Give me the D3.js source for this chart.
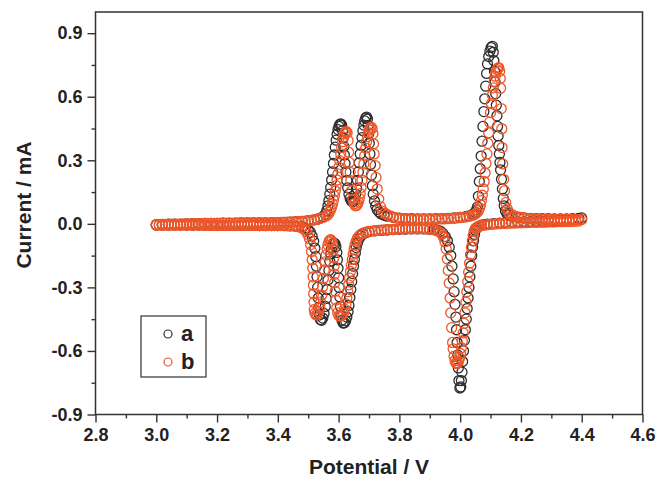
<!DOCTYPE html>
<html><head><meta charset="utf-8">
<script src="https://cdn.jsdelivr.net/npm/d3@7"></script>
<style>body{margin:0;background:#fff}svg{display:block}</style>
</head><body>
<svg id="chart" width="666" height="480"></svg>
<script>
// ---------- data ----------
const seriesNames = ["a", "b"];
const seriesColors = ["#2e2e2e", "#ef5628"];
const potentialTicks = [2.8, 3.0, 3.2, 3.4, 3.6, 3.8, 4.0, 4.2, 4.4, 4.6];
const potentialMinorTicks = [2.9, 3.1, 3.3, 3.5, 3.7, 3.9, 4.1, 4.3, 4.5];
const currentTicks = [-0.9, -0.6, -0.3, 0.0, 0.3, 0.6, 0.9];
const currentMinorTicks = [-0.75, -0.45, -0.15, 0.15, 0.45, 0.75];

// series a (black): anodic sweep 3.0 -> 4.4 V, [potential V, current mA]
const aAnodic = [
[3.00,-0.004],[3.02,-0.003],[3.04,-0.002],[3.06,-0.002],[3.08,-0.001],[3.10,0],[3.12,0.001],[3.14,0.001],[3.16,0.002],[3.18,0.002],
[3.20,0.002],[3.22,0.003],[3.24,0.003],[3.26,0.003],[3.28,0.004],[3.30,0.004],[3.32,0.004],[3.34,0.005],[3.36,0.005],[3.38,0.006],
[3.40,0.006],[3.42,0.007],[3.44,0.008],[3.46,0.010],[3.48,0.012],[3.50,0.015],[3.52,0.019],[3.53,0.022],[3.54,0.027],[3.55,0.034],
[3.556,0.045],[3.561,0.062],[3.565,0.085],[3.568,0.11],[3.571,0.14],[3.574,0.172],[3.577,0.207],[3.580,0.245],[3.583,0.285],[3.586,0.325],
[3.589,0.362],[3.592,0.395],[3.595,0.423],[3.598,0.445],[3.601,0.46],[3.604,0.469],[3.607,0.472],[3.610,0.466],[3.613,0.44],[3.615,0.405],
[3.617,0.365],[3.619,0.325],[3.621,0.285],[3.624,0.245],[3.627,0.205],[3.630,0.17],[3.634,0.14],[3.638,0.12],[3.642,0.108],[3.646,0.104],
[3.650,0.108],[3.653,0.12],[3.656,0.14],[3.659,0.168],[3.662,0.205],[3.665,0.245],[3.668,0.288],[3.671,0.33],[3.674,0.37],[3.677,0.407],
[3.680,0.44],[3.683,0.466],[3.686,0.486],[3.689,0.499],[3.692,0.504],[3.695,0.495],[3.697,0.465],[3.699,0.425],[3.701,0.38],[3.703,0.33],
[3.705,0.28],[3.708,0.23],[3.711,0.18],[3.714,0.14],[3.718,0.108],[3.722,0.085],[3.727,0.068],[3.733,0.056],[3.74,0.047],[3.75,0.040],
[3.76,0.036],[3.78,0.031],[3.80,0.027],[3.82,0.025],[3.84,0.024],[3.86,0.023],[3.88,0.023],[3.90,0.023],[3.92,0.024],[3.94,0.025],
[3.96,0.026],[3.98,0.028],[4.00,0.031],[4.02,0.035],[4.03,0.038],[4.04,0.043],[4.045,0.048],[4.05,0.055],[4.054,0.066],[4.057,0.08],
[4.060,0.13],[4.063,0.20],[4.066,0.26],[4.069,0.32],[4.072,0.39],[4.075,0.46],[4.078,0.53],[4.081,0.59],[4.084,0.65],[4.087,0.71],
[4.090,0.755],[4.094,0.79],[4.098,0.815],[4.102,0.832],[4.106,0.838],[4.109,0.81],[4.111,0.77],[4.113,0.72],[4.115,0.67],[4.117,0.615],
[4.119,0.56],[4.121,0.51],[4.123,0.46],[4.125,0.415],[4.127,0.37],[4.129,0.33],[4.131,0.29],[4.133,0.255],[4.136,0.21],[4.139,0.165],
[4.142,0.12],[4.145,0.085],[4.149,0.062],[4.154,0.048],[4.16,0.041],[4.17,0.036],[4.19,0.031],[4.21,0.028],[4.23,0.026],[4.25,0.025],
[4.27,0.024],[4.29,0.024],[4.31,0.023],[4.33,0.023],[4.35,0.023],[4.37,0.024],[4.39,0.026],[4.40,0.028]
];
// series a (black): cathodic sweep 4.4 -> 3.0 V
const aCathodic = [
[4.39,0.024],[4.37,0.020],[4.35,0.018],[4.33,0.016],[4.31,0.014],[4.29,0.013],[4.27,0.012],[4.25,0.011],[4.23,0.010],[4.21,0.009],
[4.19,0.008],[4.17,0.007],[4.15,0.005],[4.13,0.003],[4.11,0.001],[4.09,-0.002],[4.08,-0.004],[4.07,-0.006],[4.06,-0.012],[4.055,-0.02],
[4.05,-0.03],[4.047,-0.05],[4.044,-0.08],[4.041,-0.11],[4.038,-0.15],[4.035,-0.20],[4.032,-0.25],[4.029,-0.30],[4.026,-0.35],[4.023,-0.40],
[4.020,-0.45],[4.017,-0.50],[4.014,-0.55],[4.011,-0.60],[4.008,-0.65],[4.006,-0.70],[4.004,-0.74],[4.002,-0.77],[3.999,-0.775],[3.996,-0.74],
[3.994,-0.68],[3.992,-0.62],[3.990,-0.56],[3.988,-0.50],[3.986,-0.44],[3.983,-0.38],[3.980,-0.32],[3.977,-0.26],[3.973,-0.20],[3.969,-0.15],
[3.964,-0.11],[3.958,-0.08],[3.951,-0.06],[3.943,-0.045],[3.935,-0.035],[3.925,-0.03],[3.915,-0.027],[3.90,-0.025],[3.88,-0.024],[3.86,-0.024],
[3.84,-0.024],[3.82,-0.025],[3.80,-0.026],[3.78,-0.027],[3.76,-0.029],[3.74,-0.031],[3.72,-0.033],[3.70,-0.037],[3.69,-0.041],[3.68,-0.048],
[3.673,-0.058],[3.667,-0.072],[3.662,-0.09],[3.658,-0.112],[3.655,-0.138],[3.652,-0.168],[3.649,-0.20],[3.646,-0.235],[3.643,-0.272],[3.640,-0.31],
[3.637,-0.348],[3.634,-0.385],[3.631,-0.415],[3.627,-0.44],[3.623,-0.458],[3.619,-0.467],[3.615,-0.468],[3.611,-0.455],[3.608,-0.43],[3.606,-0.39],
[3.604,-0.345],[3.602,-0.30],[3.600,-0.255],[3.598,-0.21],[3.596,-0.17],[3.594,-0.135],[3.591,-0.108],[3.588,-0.094],[3.584,-0.09],[3.580,-0.097],
[3.577,-0.115],[3.574,-0.142],[3.571,-0.177],[3.568,-0.22],[3.565,-0.265],[3.562,-0.31],[3.559,-0.352],[3.556,-0.39],[3.552,-0.423],[3.548,-0.445],
[3.544,-0.455],[3.540,-0.452],[3.537,-0.43],[3.535,-0.395],[3.533,-0.35],[3.531,-0.30],[3.529,-0.25],[3.527,-0.20],[3.525,-0.155],[3.522,-0.115],
[3.518,-0.082],[3.513,-0.058],[3.507,-0.04],[3.50,-0.028],[3.49,-0.02],[3.48,-0.015],[3.46,-0.011],[3.44,-0.009],[3.42,-0.008],[3.40,-0.008],
[3.38,-0.008],[3.36,-0.008],[3.34,-0.008],[3.32,-0.007],[3.30,-0.007],[3.28,-0.007],[3.26,-0.007],[3.24,-0.007],[3.22,-0.007],[3.20,-0.007],
[3.18,-0.007],[3.16,-0.007],[3.14,-0.006],[3.12,-0.006],[3.10,-0.006],[3.08,-0.006],[3.06,-0.006],[3.04,-0.006],[3.02,-0.006],[3.00,-0.006]
];
// series b (orange): anodic sweep 3.0 -> 4.4 V
const bAnodic = [
[3.00,-0.004],[3.01,-0.004],[3.02,-0.003],[3.03,-0.003],[3.04,-0.002],[3.05,-0.002],[3.06,-0.002],[3.07,-0.001],[3.08,-0.001],[3.09,0],
[3.10,0],[3.11,0],[3.12,0.001],[3.13,0.001],[3.14,0.001],[3.15,0.001],[3.16,0.002],[3.17,0.002],[3.18,0.002],[3.19,0.002],
[3.20,0.002],[3.21,0.003],[3.22,0.003],[3.23,0.003],[3.24,0.003],[3.25,0.003],[3.26,0.003],[3.27,0.004],[3.28,0.004],[3.29,0.004],
[3.30,0.004],[3.31,0.004],[3.32,0.004],[3.33,0.005],[3.34,0.005],[3.35,0.005],[3.36,0.005],[3.37,0.005],[3.38,0.006],[3.39,0.006],
[3.40,0.006],[3.41,0.007],[3.42,0.007],[3.43,0.008],[3.44,0.008],[3.45,0.009],[3.46,0.010],[3.47,0.011],[3.48,0.012],[3.49,0.013],
[3.50,0.015],[3.51,0.017],[3.52,0.019],[3.53,0.022],[3.54,0.026],[3.55,0.031],[3.56,0.038],[3.565,0.044],[3.57,0.055],[3.574,0.068],
[3.577,0.08],[3.580,0.095],[3.583,0.112],[3.586,0.132],[3.589,0.155],[3.592,0.18],[3.595,0.207],[3.598,0.236],[3.601,0.267],[3.604,0.298],
[3.607,0.33],[3.610,0.36],[3.613,0.388],[3.616,0.41],[3.619,0.425],[3.622,0.433],[3.625,0.436],[3.628,0.43],[3.631,0.393],[3.633,0.338],
[3.635,0.29],[3.638,0.243],[3.640,0.204],[3.643,0.156],[3.647,0.117],[3.651,0.095],[3.655,0.085],[3.659,0.087],[3.662,0.093],[3.665,0.103],
[3.668,0.12],[3.671,0.143],[3.674,0.172],[3.677,0.206],[3.680,0.243],[3.683,0.283],[3.686,0.322],[3.689,0.357],[3.692,0.388],[3.695,0.412],
[3.698,0.43],[3.701,0.443],[3.704,0.452],[3.707,0.456],[3.710,0.45],[3.713,0.425],[3.715,0.378],[3.717,0.33],[3.720,0.275],[3.723,0.219],
[3.727,0.164],[3.732,0.117],[3.738,0.08],[3.745,0.06],[3.752,0.05],[3.76,0.043],[3.77,0.037],[3.78,0.032],[3.79,0.028],[3.80,0.026],
[3.81,0.025],[3.82,0.024],[3.83,0.023],[3.84,0.022],[3.85,0.022],[3.86,0.022],[3.87,0.022],[3.88,0.022],[3.89,0.022],[3.90,0.022],
[3.91,0.022],[3.92,0.023],[3.93,0.023],[3.94,0.024],[3.95,0.024],[3.96,0.025],[3.97,0.026],[3.98,0.027],[3.99,0.028],[4.00,0.030],
[4.01,0.031],[4.02,0.033],[4.03,0.036],[4.04,0.040],[4.045,0.043],[4.05,0.047],[4.055,0.053],[4.06,0.062],[4.064,0.075],[4.067,0.09],
[4.070,0.11],[4.073,0.135],[4.076,0.165],[4.079,0.20],[4.082,0.24],[4.085,0.285],[4.088,0.33],[4.091,0.38],[4.094,0.43],[4.097,0.48],
[4.100,0.525],[4.103,0.568],[4.106,0.607],[4.109,0.642],[4.112,0.672],[4.115,0.697],[4.118,0.716],[4.121,0.728],[4.124,0.735],[4.127,0.737],
[4.130,0.72],[4.132,0.686],[4.133,0.64],[4.135,0.544],[4.137,0.449],[4.138,0.36],[4.140,0.283],[4.143,0.21],[4.146,0.156],[4.150,0.10],
[4.155,0.07],[4.16,0.054],[4.166,0.046],[4.173,0.04],[4.18,0.036],[4.19,0.033],[4.20,0.030],[4.21,0.028],[4.22,0.026],[4.23,0.025],
[4.24,0.024],[4.25,0.023],[4.26,0.023],[4.27,0.022],[4.28,0.022],[4.29,0.022],[4.30,0.021],[4.31,0.021],[4.32,0.021],[4.33,0.021],
[4.34,0.021],[4.35,0.021],[4.36,0.021],[4.37,0.021],[4.38,0.020],[4.39,0.020],[4.40,0.020]
];
// series b (orange): cathodic sweep 4.4 -> 3.0 V
const bCathodic = [
[4.39,0.013],[4.38,0.012],[4.37,0.012],[4.36,0.011],[4.35,0.011],[4.34,0.010],[4.33,0.010],[4.32,0.010],[4.31,0.009],[4.30,0.009],
[4.29,0.009],[4.28,0.008],[4.27,0.008],[4.26,0.008],[4.25,0.007],[4.24,0.007],[4.23,0.007],[4.22,0.006],[4.21,0.006],[4.20,0.005],
[4.19,0.005],[4.18,0.004],[4.17,0.004],[4.16,0.003],[4.15,0.003],[4.14,0.002],[4.13,0.001],[4.12,0],[4.11,-0.001],[4.10,-0.002],
[4.09,-0.004],[4.08,-0.006],[4.07,-0.008],[4.065,-0.010],[4.06,-0.013],[4.055,-0.017],[4.05,-0.022],[4.046,-0.035],[4.043,-0.055],[4.040,-0.08],
[4.037,-0.11],[4.034,-0.145],[4.031,-0.185],[4.028,-0.228],[4.025,-0.273],[4.022,-0.32],[4.019,-0.37],[4.016,-0.42],[4.013,-0.47],[4.010,-0.515],
[4.007,-0.553],[4.004,-0.585],[4.001,-0.612],[3.998,-0.633],[3.995,-0.648],[3.992,-0.657],[3.989,-0.66],[3.986,-0.657],[3.983,-0.645],[3.980,-0.625],
[3.977,-0.59],[3.975,-0.56],[3.972,-0.49],[3.969,-0.42],[3.967,-0.35],[3.964,-0.28],[3.961,-0.22],[3.958,-0.166],[3.954,-0.118],[3.950,-0.085],
[3.945,-0.062],[3.940,-0.048],[3.934,-0.040],[3.927,-0.034],[3.92,-0.030],[3.91,-0.027],[3.90,-0.025],[3.89,-0.024],[3.88,-0.023],[3.87,-0.022],
[3.86,-0.022],[3.85,-0.022],[3.84,-0.022],[3.83,-0.023],[3.82,-0.023],[3.81,-0.024],[3.80,-0.024],[3.79,-0.025],[3.78,-0.026],[3.77,-0.027],
[3.76,-0.028],[3.75,-0.029],[3.74,-0.030],[3.73,-0.031],[3.72,-0.032],[3.71,-0.034],[3.70,-0.036],[3.69,-0.039],[3.68,-0.044],[3.673,-0.05],
[3.667,-0.058],[3.662,-0.068],[3.658,-0.082],[3.654,-0.10],[3.651,-0.12],[3.648,-0.143],[3.645,-0.168],[3.642,-0.195],[3.639,-0.225],[3.636,-0.256],
[3.633,-0.288],[3.630,-0.32],[3.627,-0.35],[3.624,-0.378],[3.620,-0.403],[3.616,-0.421],[3.611,-0.432],[3.606,-0.436],[3.601,-0.434],[3.597,-0.42],
[3.594,-0.397],[3.591,-0.36],[3.589,-0.318],[3.587,-0.278],[3.586,-0.238],[3.585,-0.20],[3.584,-0.16],[3.582,-0.125],[3.580,-0.098],[3.577,-0.082],
[3.574,-0.075],[3.571,-0.077],[3.568,-0.086],[3.565,-0.10],[3.562,-0.12],[3.559,-0.147],[3.556,-0.18],[3.553,-0.218],[3.550,-0.258],[3.547,-0.298],
[3.544,-0.337],[3.541,-0.37],[3.538,-0.395],[3.534,-0.415],[3.530,-0.427],[3.526,-0.43],[3.522,-0.422],[3.520,-0.404],[3.519,-0.37],[3.518,-0.33],
[3.517,-0.29],[3.516,-0.25],[3.515,-0.21],[3.513,-0.17],[3.511,-0.13],[3.508,-0.098],[3.504,-0.07],[3.499,-0.05],[3.493,-0.035],[3.486,-0.025],
[3.478,-0.018],[3.47,-0.014],[3.46,-0.012],[3.45,-0.010],[3.44,-0.009],[3.43,-0.009],[3.42,-0.008],[3.41,-0.008],[3.40,-0.008],[3.39,-0.008],
[3.38,-0.008],[3.37,-0.008],[3.36,-0.008],[3.35,-0.008],[3.34,-0.008],[3.33,-0.007],[3.32,-0.007],[3.31,-0.007],[3.30,-0.007],[3.29,-0.007],
[3.28,-0.007],[3.27,-0.007],[3.26,-0.007],[3.25,-0.007],[3.24,-0.007],[3.23,-0.007],[3.22,-0.007],[3.21,-0.007],[3.20,-0.007],[3.19,-0.007],
[3.18,-0.007],[3.17,-0.007],[3.16,-0.007],[3.15,-0.006],[3.14,-0.006],[3.13,-0.006],[3.12,-0.006],[3.11,-0.006],[3.10,-0.006],[3.09,-0.006],
[3.08,-0.006],[3.07,-0.006],[3.06,-0.006],[3.05,-0.006],[3.04,-0.006],[3.03,-0.006],[3.02,-0.006],[3.01,-0.006],[3.00,-0.006]
];

// ---------- chart ----------
const svg = d3.select("#chart");
const FONT = "'Liberation Sans', Arial, Helvetica, sans-serif";
const x = d3.scaleLinear().domain([2.8, 4.6]).range([95.5, 642.5]);
const y = d3.scaleLinear().domain([-0.9, 1.0]).range([414.5, 12]);
const fmt = v => v.toFixed(1);

// data points
const series = [aAnodic.concat(aCathodic), bAnodic.concat(bCathodic)];
series.forEach((pts, i) => {
  svg.append("g").selectAll("circle").data(pts).join("circle")
    .attr("cx", d => x(d[0])).attr("cy", d => y(d[1])).attr("r", 5)
    .attr("fill", "none").attr("stroke", seriesColors[i]).attr("stroke-width", 1.3);
});

// axes
const xAxis = svg.append("g").attr("transform", `translate(0,${y(-0.9)})`)
  .call(d3.axisBottom(x).tickValues(potentialTicks).tickSize(8).tickPadding(6).tickFormat(fmt));
const xMinor = svg.append("g").attr("transform", `translate(0,${y(-0.9)})`)
  .call(d3.axisBottom(x).tickValues(potentialMinorTicks).tickSize(4).tickFormat(""));
const yAxis = svg.append("g").attr("transform", `translate(${x(2.8)},0)`)
  .call(d3.axisLeft(y).tickValues(currentTicks).tickSize(8).tickPadding(5).tickFormat(fmt));
const yMinor = svg.append("g").attr("transform", `translate(${x(2.8)},0)`)
  .call(d3.axisLeft(y).tickValues(currentMinorTicks).tickSize(4).tickFormat(""));
[xAxis, xMinor, yAxis, yMinor].forEach(g => {
  g.select(".domain").remove();
  g.selectAll(".tick line").attr("stroke", "#333").attr("stroke-width", 1.4);
  g.selectAll("text").attr("font-family", FONT).attr("font-size", 18).attr("font-weight", "bold").attr("fill", "#222");
});

// frame
svg.append("rect").attr("x", x(2.8)).attr("y", y(1.0))
  .attr("width", x(4.6) - x(2.8)).attr("height", y(-0.9) - y(1.0))
  .attr("fill", "none").attr("stroke", "#333").attr("stroke-width", 1.5);

// axis titles
svg.append("text").attr("x", (x(2.8) + x(4.6)) / 2).attr("y", 474)
  .attr("text-anchor", "middle").attr("font-family", FONT).attr("font-size", 21)
  .attr("font-weight", "bold").attr("fill", "#222").text("Potential / V");
svg.append("text").attr("transform", "translate(31,205) rotate(-90)")
  .attr("text-anchor", "middle").attr("font-family", FONT).attr("font-size", 21)
  .attr("font-weight", "bold").attr("fill", "#222").text("Current / mA");

// legend
const lg = svg.append("g");
lg.append("rect").attr("x", 141).attr("y", 316).attr("width", 65).attr("height", 61)
  .attr("fill", "none").attr("stroke", "#333").attr("stroke-width", 1.2);
seriesNames.forEach((name, i) => {
  lg.append("circle").attr("cx", 168).attr("cy", 334 + i * 28).attr("r", 4)
    .attr("fill", "none").attr("stroke", seriesColors[i]).attr("stroke-width", 1.2);
  lg.append("text").attr("x", 181).attr("y", 341 + i * 28)
    .attr("font-family", FONT).attr("font-size", 22).attr("font-weight", "bold")
    .attr("fill", "#222").text(name);
});
</script>
</body></html>
